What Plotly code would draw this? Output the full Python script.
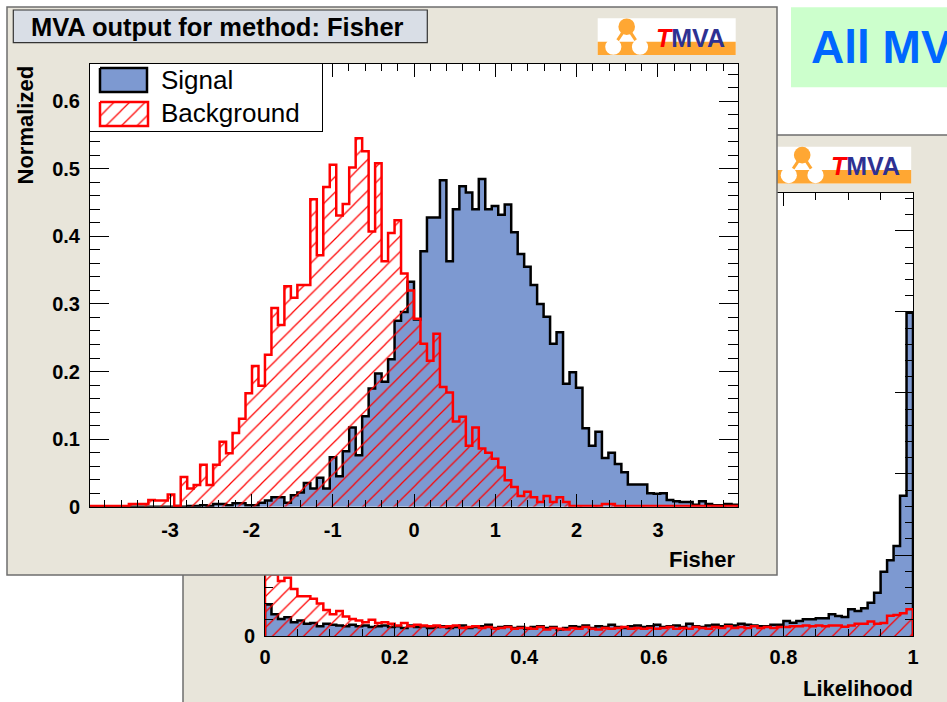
import plotly.graph_objects as go

W, H = 947, 702
FONT = "Liberation Sans, Arial, sans-serif"
BLUE = "#7D99D1"
BEIGE = "#E8E5DA"
EDGE = "#6E6E6E"
ORANGE = "#FFA733"
RED = "#FF0000"

# ---------------- data ----------------
fisher_range = (-3.984, 3.984)
fisher_ymax = 0.655
fisher_signal = [
    0, 0, 0, 0, 0, 0, 0, 0, 0, 0,
    0, 0, 0, 0.001, 0, 0.001, 0.001, 0.002, 0.001, 0.004,
    0.004, 0.002, 0.005, 0.005, 0.002, 0.002, 0.006, 0.009, 0.014, 0.014,
    0.006, 0.017, 0.021, 0.035, 0.027, 0.043, 0.027, 0.073, 0.045, 0.082,
    0.117, 0.076, 0.134, 0.175, 0.197, 0.185, 0.218, 0.275, 0.288, 0.333,
    0.277, 0.378, 0.428, 0.428, 0.483, 0.363, 0.44, 0.474, 0.465, 0.44,
    0.485, 0.44, 0.445, 0.432, 0.447, 0.406, 0.374, 0.355, 0.328, 0.3,
    0.281, 0.241, 0.258, 0.182, 0.199, 0.176, 0.116, 0.09, 0.111, 0.072,
    0.08, 0.063, 0.051, 0.033, 0.033, 0.033, 0.02, 0.019, 0.02, 0.01,
    0.008, 0.007, 0.007, 0.003, 0.008, 0.004, 0.002, 0.002, 0.004, 0.003]
fisher_background = [
    0.001, 0.001, 0.001, 0.001, 0.001, 0.001, 0.004, 0.004, 0.004, 0.01,
    0.009, 0.009, 0.018, 0.001, 0.044, 0.027, 0.032, 0.062, 0.032, 0.062,
    0.096, 0.079, 0.109, 0.13, 0.168, 0.208, 0.179, 0.225, 0.294, 0.269,
    0.326, 0.309, 0.328, 0.328, 0.455, 0.372, 0.473, 0.506, 0.431, 0.448,
    0.502, 0.545, 0.526, 0.407, 0.508, 0.363, 0.405, 0.424, 0.345, 0.32,
    0.278, 0.241, 0.216, 0.256, 0.177, 0.169, 0.126, 0.133, 0.09, 0.117,
    0.086, 0.08, 0.071, 0.058, 0.039, 0.029, 0.016, 0.022, 0.014, 0.007,
    0.016, 0.007, 0.014, 0.007, 0.001, 0.001, 0.001, 0.001, 0.001, 0.004,
    0.004, 0.001, 0.001, 0.001, 0.001, 0.001, 0.001, 0.001, 0.001, 0.001,
    0.001, 0.001, 0.001, 0.001, 0.001, 0.001, 0.001, 0.001, 0.001, 0.001]
fisher_xticks = [-3, -2, -1, 0, 1, 2, 3]
fisher_xticktext = ["-3", "-2", "-1", "0", "1", "2", "3"]

lik_range = (0.0, 1.0)
lik_ymax = 54.75
lik_signal = [
    3.9, 2.7, 2.1, 2.3, 1.7, 1.9, 1.5, 1.6, 1.2, 1.5,
    1.4, 1.3, 1.2, 1.4, 1.2, 1.3, 1.1, 1.2, 1.3, 1.1,
    1.2, 1.0, 1.3, 1.1, 1.2, 1.0, 1.1, 1.2, 1.0, 1.1,
    1.3, 1.0, 1.1, 1.2, 1.4, 1.0, 1.1, 1.2, 1.0, 1.1,
    0.9, 1.1, 1.2, 1.0, 1.1, 0.8, 1.0, 1.2, 1.1, 1.3,
    1.0, 1.2, 1.1, 1.4, 1.1, 1.0, 1.2, 1.3, 1.1, 1.2,
    1.4, 1.1, 1.2, 1.3, 1.1, 1.5, 1.2, 1.1, 1.3, 1.4,
    1.2, 1.4, 1.3, 1.5, 1.4, 1.3, 1.2, 1.2, 1.4, 1.4,
    1.85, 1.64, 1.85, 2.06, 2.06, 2.18, 2.18, 2.68, 2.47, 2.35,
    3.29, 3.09, 3.42, 4.1, 5.35, 7.94, 9.34, 11.1, 17.3, 39.9]
lik_background = [
    8.5, 7.6, 6.8, 7.2, 5.8, 4.9, 4.9, 4.6, 4.0, 3.2,
    2.7, 3.1, 2.4, 2.1, 1.9, 1.7, 2.0, 1.6, 1.7, 1.5,
    1.3, 1.6, 1.2, 1.4, 1.3, 1.2, 1.3, 1.1, 1.2, 1.3,
    1.0, 1.1, 1.2, 1.0, 1.1, 0.9, 1.0, 1.1, 0.9, 1.0,
    1.0, 0.9, 1.1, 0.8, 1.0, 0.9, 0.8, 1.0, 0.9, 1.1,
    0.9, 0.8, 1.0, 0.9, 1.0, 1.1, 0.9, 1.0, 0.9, 1.0,
    0.9, 1.0, 1.1, 0.9, 1.0, 0.9, 1.1, 1.0, 0.9, 1.1,
    1.0, 1.2, 1.0, 1.1, 1.0, 1.2, 1.0, 1.1, 1.0, 1.1,
    1.1, 1.2, 1.2, 1.3, 1.2, 1.3, 1.2, 1.3, 1.3, 1.15,
    1.3, 1.5, 1.5, 1.8, 1.5, 1.6, 2.5, 2.6, 2.8, 3.3]
lik_xticks = [0, 0.2, 0.4, 0.6, 0.8, 1]
lik_xticktext = ["0", "0.2", "0.4", "0.6", "0.8", "1"]

legend_labels = ["Signal", "Background"]


# ---------------- helpers ----------------
def px(x):
    return x / W


def py(y):
    return 1 - y / H


def step(xr, vals):
    n = len(vals)
    w = (xr[1] - xr[0]) / n
    edges = [xr[0] + i * w for i in range(n + 1)]
    xs = [edges[0]] + edges[:n] + [edges[n], edges[n]]
    ys = [0] + list(vals) + [vals[-1], 0]
    return xs, ys


hatch = dict(shape="/", fgcolor=RED, bgcolor="rgba(0,0,0,0)", size=11,
             solidity=0.11, fillmode="replace")

fig = go.Figure()

# histograms (likelihood: subplot xy ; fisher: subplot x3y3)
for xr, sig, bkg, xa, ya in [(lik_range, lik_signal, lik_background, "x", "y"),
                             (fisher_range, fisher_signal, fisher_background, "x3", "y3")]:
    xs, ys = step(xr, sig)
    fig.add_trace(go.Scatter(x=xs, y=ys, mode="lines",
                             line=dict(color="black", width=2.5, shape="hv"),
                             fill="tozeroy", fillcolor=BLUE, xaxis=xa, yaxis=ya,
                             hoverinfo="skip", showlegend=False))
    xs, ys = step(xr, bkg)
    fig.add_trace(go.Scatter(x=xs, y=ys, mode="lines",
                             line=dict(color=RED, width=2.5, shape="hv"),
                             fill="tozeroy", fillcolor="rgba(0,0,0,0)", fillpattern=hatch,
                             xaxis=xa, yaxis=ya, hoverinfo="skip", showlegend=False))

# dummy trace so the front canvas subplot exists
fig.add_trace(go.Scatter(x=[6], y=[6], mode="markers", marker=dict(size=1, opacity=0),
                         xaxis="x2", yaxis="y2", hoverinfo="skip", showlegend=False))

# legend swatches (subplot x4y4 in canvas pixel units)
fig.add_trace(go.Scatter(x=[100, 147, 147, 100, 100], y=[68, 68, 92, 92, 68], mode="lines",
                         fill="toself", fillcolor=BLUE, line=dict(color="black", width=2.5),
                         xaxis="x4", yaxis="y4", hoverinfo="skip", showlegend=False))
fig.add_trace(go.Scatter(x=[100, 148, 148, 100, 100], y=[102, 102, 126, 126, 102], mode="lines",
                         fill="toself", fillcolor="rgba(0,0,0,0)", fillpattern=hatch,
                         line=dict(color=RED, width=2.5),
                         xaxis="x4", yaxis="y4", hoverinfo="skip", showlegend=False))

tick_font = dict(family=FONT, size=20, color="black", weight="bold")


def frame_axis(**kw):
    base = dict(showline=True, linecolor="black", linewidth=1, mirror="ticks",
                ticks="inside", tickcolor="black", tickwidth=1, showgrid=False,
                zeroline=False, tickfont=tick_font, fixedrange=True, automargin=False)
    base.update(kw)
    return base


hidden = dict(visible=False, showgrid=False, zeroline=False, fixedrange=True)

# ---------------- shapes ----------------
shapes = []


def rect(x0, y0, x1, y1, xref, yref, **kw):
    d = dict(type="rect", x0=x0, y0=y0, x1=x1, y1=y1, xref=xref, yref=yref, layer="below")
    d.update(kw)
    return d


def paper_rect(x0, y0, x1, y1, **kw):
    return rect(px(x0), py(y0), px(x1), py(y1), "paper", "paper", **kw)


def logo(ox, oy, conv, xref, yref):
    out = []

    def c(x, y):
        return conv(ox + x, oy + y)

    def box(kind, x0, y0, x1, y1, **kw):
        a0, b0 = c(x0, y0)
        a1, b1 = c(x1, y1)
        d = dict(type=kind, x0=a0, y0=b0, x1=a1, y1=b1, xref=xref, yref=yref, layer="below")
        d.update(kw)
        return d
    out.append(box("rect", 0, 0, 138, 36.7, fillcolor="white", line=dict(width=0)))
    out.append(box("rect", 0, 23.4, 138, 36.7, fillcolor=ORANGE, line=dict(width=0)))
    out.append(box("line", 29, 8.4, 15.6, 28.4, line=dict(color=ORANGE, width=3)))
    out.append(box("line", 29, 8.4, 42.3, 28.4, line=dict(color=ORANGE, width=3)))
    out.append(box("circle", 20.7, 0.1, 37.3, 16.7, fillcolor=ORANGE, line=dict(width=0)))
    out.append(box("circle", 7.5, 20.5, 23.7, 36.5, fillcolor="white", line=dict(width=0)))
    out.append(box("circle", 34.2, 20.5, 50.4, 36.5, fillcolor="white", line=dict(width=0)))
    return out


# back canvas (Likelihood) -- paper level, lowest layer
shapes.append(paper_rect(183, 135, 980, 740, fillcolor=BEIGE, line=dict(color=EDGE, width=1.5)))
shapes.append(paper_rect(265, 192.5, 913, 636, fillcolor="white", line=dict(width=0)))
shapes += logo(773.2, 146.7, lambda x, y: (px(x), py(y)), "paper", "paper")
shapes.append(paper_rect(791, 7.3, 980, 87.3, fillcolor="#CCFFCC", line=dict(width=0)))

# front canvas (Fisher) -- drawn inside subplot x2y2 (pixel units)
shapes.append(rect(7, 7, 777, 575, "x2", "y2", fillcolor=BEIGE, line=dict(color=EDGE, width=1.5)))
shapes.append(rect(13.3, 10, 427.3, 42.7, "x2", "y2", fillcolor="#D9DEE6",
                   line=dict(color="#333333", width=1.2)))
shapes += logo(597.7, 18.3, lambda x, y: (x, y), "x2", "y2")

# white plot frame for Fisher and legend box
shapes.append(rect(fisher_range[0], 0, fisher_range[1], fisher_ymax, "x3", "y3",
                   fillcolor="white", line=dict(width=0)))
shapes.append(rect(90, 64, 322, 131, "x4", "y4", fillcolor="white", line=dict(width=0)))

# ---------------- annotations ----------------
anns = []


def ann(text, x, y, size, xanchor="center", bold=False, color="black", angle=0):
    anns.append(dict(text=text, x=px(x), y=py(y), xref="paper", yref="paper",
                     xanchor=xanchor, yanchor="middle", showarrow=False, textangle=angle,
                     borderpad=0,
                     font=dict(family=FONT, size=size, color=color,
                               weight="bold" if bold else "normal")))


logo_text = ('<i><span style="color:#FF0000">T</span></i>'
             '<span style="color:#2E3192">MVA</span>')
ann("MVA output for method: Fisher", 30, 26.7, 25.5, xanchor="left", bold=True)
ann(logo_text, 690, 37.5, 25, bold=True)
ann(logo_text, 865.5, 165.9, 25, bold=True)
ann("All MVAs", 810, 46.7, 46, xanchor="left", bold=True, color="#0066FF")
ann(legend_labels[0], 160, 80, 26, xanchor="left")
ann(legend_labels[1], 160, 113, 26, xanchor="left")
ann("Normalized", 25, 125.5, 22, bold=True, angle=-90)
ann("Fisher", 736, 559, 22, xanchor="right", bold=True)
ann("Likelihood", 914, 688, 22, xanchor="right", bold=True)

fig.update_layout(
    width=W, height=H, margin=dict(l=0, r=0, t=0, b=0, pad=0),
    paper_bgcolor="white", plot_bgcolor="rgba(0,0,0,0)", template="none",
    font=dict(family=FONT, color="black"), showlegend=False,
    xaxis=frame_axis(domain=[px(265), px(913)], anchor="y", range=list(lik_range),
                     tickmode="array", tickvals=lik_xticks, ticktext=lik_xticktext,
                     ticklen=13, ticklabelstandoff=3,
                     minor=dict(ticks="inside", ticklen=7, tickmode="linear", tick0=0,
                                dtick=0.05, tickcolor="black", tickwidth=1)),
    yaxis=frame_axis(domain=[py(636), py(192.5)], anchor="x", range=[0, lik_ymax],
                     tickmode="linear", tick0=0, dtick=10, ticklen=18, ticklabelstandoff=5,
                     minor=dict(ticks="inside", ticklen=8, tickmode="linear", tick0=0,
                                dtick=2, tickcolor="black", tickwidth=1)),
    xaxis2=dict(domain=[px(5), px(779)], anchor="y2", range=[5, 779], **hidden),
    yaxis2=dict(domain=[py(577), py(5)], anchor="x2", range=[577, 5], **hidden),
    xaxis3=frame_axis(domain=[px(90), px(738)], anchor="y3", range=list(fisher_range),
                      tickmode="array", tickvals=fisher_xticks, ticktext=fisher_xticktext,
                      ticklen=13, ticklabelstandoff=5,
                      minor=dict(ticks="inside", ticklen=7, tickmode="linear", tick0=0,
                                 dtick=0.2, tickcolor="black", tickwidth=1)),
    yaxis3=frame_axis(domain=[py(506.7), py(64)], anchor="x3", range=[0, fisher_ymax],
                      tickmode="linear", tick0=0, dtick=0.1, ticklen=19, ticklabelstandoff=5,
                      minor=dict(ticks="inside", ticklen=10, tickmode="linear", tick0=0,
                                 dtick=0.02, tickcolor="black", tickwidth=1)),
    xaxis4=dict(domain=[px(90), px(322)], anchor="y4", range=[90, 322], showline=True,
                mirror=True, linecolor="black", linewidth=1, showticklabels=False,
                ticks="", showgrid=False, zeroline=False, fixedrange=True),
    yaxis4=dict(domain=[py(131), py(64)], anchor="x4", range=[131, 64], showline=True,
                mirror=True, linecolor="black", linewidth=1, showticklabels=False,
                ticks="", showgrid=False, zeroline=False, fixedrange=True),
    shapes=shapes,
    annotations=anns,
)

fig.write_html("out.html")
